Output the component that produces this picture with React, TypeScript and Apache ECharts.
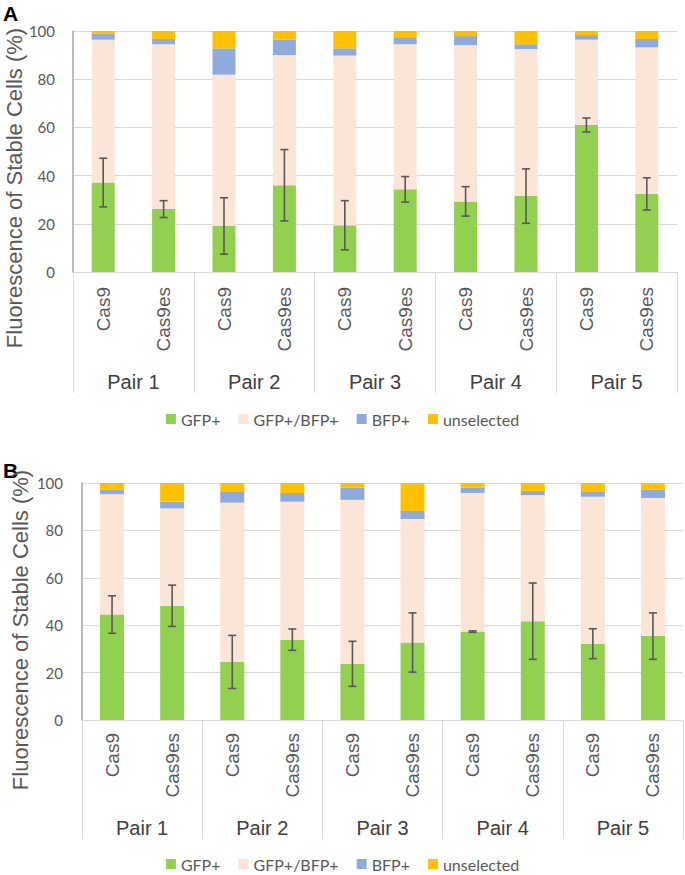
import React, { useEffect, useRef } from "react";
import * as echarts from "echarts";

const categories = ["Cas9", "Cas9es", "Cas9", "Cas9es", "Cas9", "Cas9es", "Cas9", "Cas9es", "Cas9", "Cas9es"];
const pairs = ["Pair 1", "Pair 2", "Pair 3", "Pair 4", "Pair 5"];
const seriesNames = ["GFP+", "GFP+/BFP+", "BFP+", "unselected"];
const yTicks = [0, 20, 40, 60, 80, 100];

// Panel A
const gfpA = [37.1, 26.1, 19.1, 36.0, 19.4, 34.3, 29.3, 31.5, 61.0, 32.4];
const gfpBfpA = [59.3, 68.4, 62.8, 54.0, 70.4, 60.2, 64.8, 61.0, 35.4, 60.8];
const bfpA = [2.6, 2.2, 10.9, 6.4, 3.0, 2.6, 3.8, 2.0, 1.9, 3.5];
const unselA = [1.0, 3.3, 7.2, 3.6, 7.2, 2.9, 2.1, 5.5, 1.7, 3.3];
const errA = [10.1, 3.5, 11.7, 14.8, 10.2, 5.3, 6.1, 11.3, 2.9, 6.7];

// Panel B
const gfpB = [44.5, 48.2, 24.5, 33.9, 23.7, 32.7, 37.3, 41.7, 32.2, 35.4];
const gfpBfpB = [50.8, 41.1, 67.2, 58.2, 69.2, 52.1, 58.5, 53.2, 62.0, 58.3];
const bfpB = [2.0, 2.8, 4.8, 3.7, 5.1, 3.4, 2.2, 1.8, 2.3, 3.6];
const unselB = [2.7, 7.9, 3.5, 4.2, 2.0, 11.8, 2.0, 3.3, 3.5, 2.7];
const errB = [7.9, 8.7, 11.2, 4.5, 9.5, 12.5, 0.3, 16.1, 6.3, 9.8];

const colors = ["#92D050", "#FBE5D6", "#8FAADC", "#FFC000"];
const ARIAL = "'Liberation Sans', Arial, sans-serif";
const CAL = "Lato, 'Open Sans', sans-serif";

function errorSeries(gfp: number[], err: number[], xi: number, yi: number) {
  return {
    type: "custom",
    xAxisIndex: xi,
    yAxisIndex: yi,
    z: 10,
    silent: true,
    encode: { x: 0, y: 1 },
    data: gfp.map((v, i) => [i, v, err[i]]),
    renderItem: (params: any, api: any) => {
      const x = api.value(0);
      const m = api.value(1);
      const e = api.value(2);
      const top = api.coord([x, m + e]);
      const bot = api.coord([x, m - e]);
      const hw = 4;
      const st = { stroke: "#595959", lineWidth: 1.6 };
      return {
        type: "group",
        children: [
          { type: "line", shape: { x1: top[0], y1: top[1], x2: bot[0], y2: bot[1] }, style: st },
          { type: "line", shape: { x1: top[0] - hw, y1: top[1], x2: top[0] + hw, y2: top[1] }, style: st },
          { type: "line", shape: { x1: bot[0] - hw, y1: bot[1], x2: bot[0] + hw, y2: bot[1] }, style: st },
        ],
      };
    },
  };
}

function barSeries(data: number[][], xi: number, yi: number, stack: string, width: number) {
  return data.map((d, k) => ({
    type: "bar",
    name: seriesNames[k],
    stack,
    xAxisIndex: xi,
    yAxisIndex: yi,
    barWidth: width,
    itemStyle: { color: colors[k] },
    data: d,
  }));
}

function catAxis(grid: number, margin: number) {
  return {
    type: "category",
    gridIndex: grid,
    data: categories,
    position: "bottom",
    axisLine: { show: true, lineStyle: { color: "#D9D9D9", width: 1 } },
    axisTick: { show: false },
    axisLabel: {
      interval: 0,
      rotate: 90,
      margin,
      fontFamily: ARIAL,
      fontSize: 19,
      color: "#595959",
    },
    splitLine: { show: false },
  };
}

function pairAxis(grid: number, tickLen: number, margin: number) {
  return {
    type: "category",
    gridIndex: grid,
    data: pairs,
    position: "bottom",
    axisLine: { show: false },
    axisTick: { show: true, length: tickLen, lineStyle: { color: "#D9D9D9", width: 1 } },
    axisLabel: { interval: 0, margin, fontFamily: ARIAL, fontSize: 20, color: "#404040" },
    splitLine: { show: false },
  };
}

function valAxis(grid: number, margin: number) {
  return {
    type: "value",
    gridIndex: grid,
    min: yTicks[0],
    max: yTicks[yTicks.length - 1],
    interval: 20,
    axisLine: { show: true, lineStyle: { color: "#A6A6A6", width: 1.5 } },
    axisTick: { show: false },
    axisLabel: { margin, fontFamily: CAL, fontSize: 15, color: "#595959" },
    splitLine: { show: true, lineStyle: { color: "#D9D9D9", width: 1 } },
  };
}

function hiddenVal(grid: number) {
  return { type: "value", gridIndex: grid, min: 0, max: 100, show: false };
}

export default function App() {
  const ref = useRef<HTMLDivElement>(null);
  useEffect(() => {
    document.body.style.margin = "0";
    if (!ref.current) return;
    const chart = echarts.init(ref.current, undefined, { renderer: "svg" });
    const legendBase = {
      left: "center",
      padding: 0,
      itemWidth: 10,
      itemHeight: 10,
      itemGap: 18,
      icon: "rect",
      data: seriesNames,
      textStyle: { fontFamily: CAL, fontSize: 16, color: "#595959" },
    };
    chart.setOption({
      animation: false,
      backgroundColor: "#ffffff",
      grid: [
        { left: 73, top: 31, width: 604, height: 241 },
        { left: 73, top: 31, width: 604, height: 241 },
        { left: 82, top: 483, width: 601, height: 237 },
        { left: 82, top: 483, width: 601, height: 237 },
      ],
      xAxis: [catAxis(0, 15), pairAxis(1, 121, 100), catAxis(2, 13), pairAxis(3, 118, 98)],
      yAxis: [valAxis(0, 18), hiddenVal(1), valAxis(2, 19), hiddenVal(3)],
      legend: [
        { ...legendBase, top: 411 },
        { ...legendBase, top: 856 },
      ],
      series: [
        ...barSeries([gfpA, gfpBfpA, bfpA, unselA], 0, 0, "A", 23),
        errorSeries(gfpA, errA, 0, 0),
        ...barSeries([gfpB, gfpBfpB, bfpB, unselB], 2, 2, "B", 24),
        errorSeries(gfpB, errB, 2, 2),
      ],
      graphic: [
        { type: "text", x: 3, y: 13, style: { text: "A", fontFamily: ARIAL, fontWeight: "bold", fontSize: 21, fill: "#000", textVerticalAlign: "middle" } },
        { type: "text", x: 3, y: 470, style: { text: "B", fontFamily: ARIAL, fontWeight: "bold", fontSize: 21, fill: "#000", textVerticalAlign: "middle" } },
        {
          type: "text", x: 14, y: 188, rotation: Math.PI / 2,
          style: { text: "Fluorescence of Stable Cells (%)", fontFamily: ARIAL, fontSize: 22, fill: "#595959", textAlign: "center", textVerticalAlign: "middle" },
        },
        {
          type: "text", x: 20, y: 630, rotation: Math.PI / 2,
          style: { text: "Fluorescence of Stable Cells (%)", fontFamily: ARIAL, fontSize: 22, fill: "#595959", textAlign: "center", textVerticalAlign: "middle" },
        },
      ],
    });
    return () => chart.dispose();
  }, []);
  return <div ref={ref} style={{ width: 685, height: 875, position: "absolute", left: 0, top: 0 }} />;
}
